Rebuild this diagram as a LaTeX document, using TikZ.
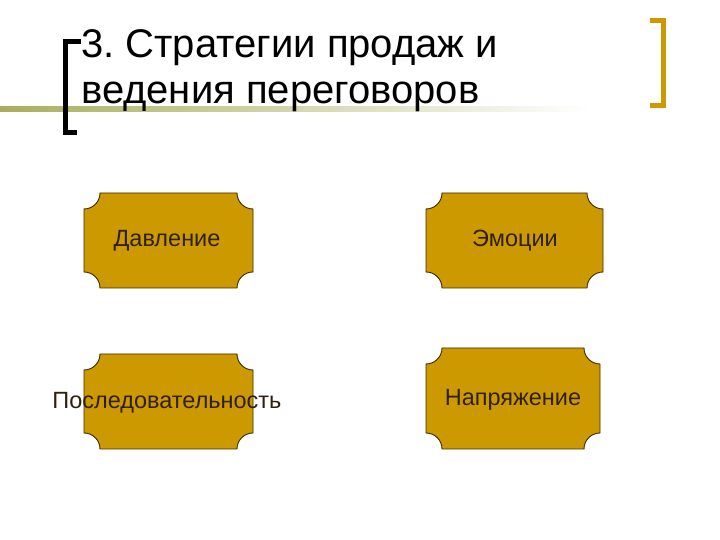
\documentclass[tikz,border=0pt]{standalone}
\usepackage{fontspec}
\setmainfont{Liberation Sans}
\frenchspacing
\definecolor{boxfill}{HTML}{CC9900}
\definecolor{boxline}{HTML}{3D2B00}
\definecolor{boxtext}{HTML}{2E200A}
\definecolor{gold}{HTML}{CC9900}
\definecolor{olive}{RGB}{168,174,92}
\newcommand\ticketshape[4]{% x1 ytop(px) x2 ybot(px)
  \pgfmathsetmacro\tyA{540-#4}\pgfmathsetmacro\tyB{540-#2}%
  \draw[tick] (#1+16,\tyB) -- (#3-16,\tyB) arc[start angle=180,end angle=270,radius=16]
    -- (#3,\tyA+16) arc[start angle=90,end angle=180,radius=16]
    -- (#1+16,\tyA) arc[start angle=0,end angle=90,radius=16]
    -- (#1,\tyB-16) arc[start angle=270,end angle=360,radius=16] -- cycle;}
\begin{document}
\begin{tikzpicture}[x=1pt,y=1pt,
  tick/.style={fill=boxfill,draw=boxline,line width=0.9pt},
  lbl/.style={text=boxtext,font=\fontsize{23.5}{28}\selectfont,inner sep=0pt},
  ttl/.style={text=black,font=\fontsize{40}{46}\selectfont,inner sep=0pt,anchor=base west}]
\useasboundingbox (0,0) rectangle (720,540);
% green fading band
\shade[left color=olive,right color=white] (0,540-112) rectangle (590,540-107);
% brackets
\draw[line width=5pt] (81,540-41.5) -- (65.5,540-41.5) -- (65.5,540-132.5) -- (77,540-132.5);
\draw[gold,line width=5pt] (650,540-20.8) -- (663,540-20.8) -- (663,540-105.5) -- (650,540-105.5);
% title
\node[ttl] (title1) at (81,540-58) {3. Стратегии продаж и};
\node[ttl] (title2) at (81,540-104) {ведения переговоров};
% boxes
\ticketshape{84}{193}{253}{288}
\ticketshape{426}{193}{603}{288}
\ticketshape{84}{354}{253}{449}
\ticketshape{426}{348}{600}{449}
\node[lbl] (t1) at (167,540-241) {Давление};
\node[lbl] (t2) at (515,540-241) {Эмоции};
\node[lbl] (t3) at (167,540-403) {Последовательность};
\node[lbl] (t4) at (513,540-400) {Напряжение};
\end{tikzpicture}
\end{document}
